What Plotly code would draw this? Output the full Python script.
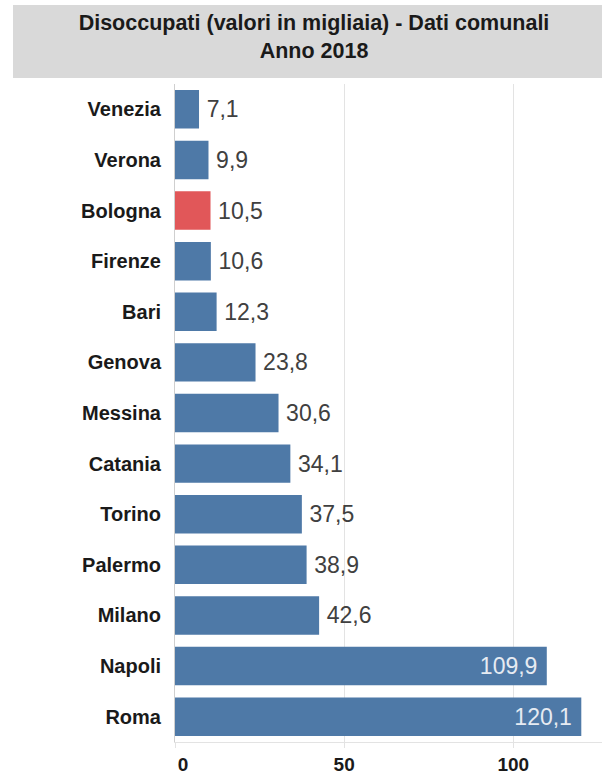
import plotly.graph_objects as go

# Unemployed persons (thousands) by municipality, 2018
cities = ["Venezia", "Verona", "Bologna", "Firenze", "Bari", "Genova", "Messina",
          "Catania", "Torino", "Palermo", "Milano", "Napoli", "Roma"]
values = [7.1, 9.9, 10.5, 10.6, 12.3, 23.8, 30.6, 34.1, 37.5, 38.9, 42.6, 109.9, 120.1]
highlight = "Bologna"
x_ticks = [0, 50, 100]
x_tick_text = ["\u00a0\u00a0\u00a00", "50", "100"]

BLUE = "#4e79a7"
RED = "#e15759"
FONT = "Liberation Sans, Arial, sans-serif"

colors = [RED if c == highlight else BLUE for c in cities]
inside = [v > 100 for v in values]
positions = ["inside" if i else "outside" for i in inside]
templates = ["%{x:.1f}\u00a0" if i else "\u2009%{x:.1f}" for i in inside]

fig = go.Figure(go.Bar(
    x=values,
    y=cities,
    orientation="h",
    marker=dict(color=colors, line=dict(width=0)),
    texttemplate=templates,
    textposition=positions,
    insidetextanchor="end",
    constraintext="none",
    cliponaxis=False,
    textfont=dict(family=FONT, size=23),
    outsidetextfont=dict(family=FONT, size=23, color="#404040"),
    insidetextfont=dict(family=FONT, size=23, color="#e6ebf2"),
    hoverinfo="skip",
))

W, H = 602, 778
L, R, T, B = 175, 0, 84, 36

fig.update_layout(
    width=W, height=H,
    margin=dict(l=L, r=R, t=T, b=B),
    paper_bgcolor="white",
    plot_bgcolor="white",
    separators=",.",
    bargap=0.24,
    showlegend=False,
    font=dict(family=FONT),
    title=dict(
        text="<b>Disoccupati (valori in migliaia) - Dati comunali<br>Anno 2018</b>",
        x=314 / W, xanchor="center", xref="container",
        y=1 - 30 / H, yanchor="middle", yref="container",
        font=dict(family=FONT, size=21.5, color="#1a1a1a"),
    ),
    shapes=[dict(
        type="rect", xref="paper", yref="paper",
        x0=(13 - L) / (W - L - R), x1=1.0,
        y0=(H - B - 78) / (H - T - B), y1=(H - B - 5) / (H - T - B),
        fillcolor="#d9d9d9", line=dict(width=0), layer="below",
    )],
)

fig.update_xaxes(
    range=[0, (W - L - R) / 3.383],
    tickvals=x_ticks,
    ticktext=x_tick_text,
    showgrid=True, gridcolor="#e3e3e3", gridwidth=1,
    zeroline=False,
    showline=True, linecolor="#e3e3e3", linewidth=1,
    ticks="outside", ticklen=5, tickcolor="#e3e3e3",
    tickfont=dict(family=FONT, size=19, color="#1a1a1a", weight="bold"),
    fixedrange=True,
)

fig.update_yaxes(
    categoryorder="array", categoryarray=cities,
    autorange="reversed",
    showgrid=False, zeroline=False,
    showline=True, linecolor="#cfcfcf", linewidth=1,
    ticks="", ticklabelstandoff=9,
    tickfont=dict(family=FONT, size=20, color="#1a1a1a", weight="bold"),
    fixedrange=True,
)

fig.write_html("out.html", config={"displayModeBar": False})
